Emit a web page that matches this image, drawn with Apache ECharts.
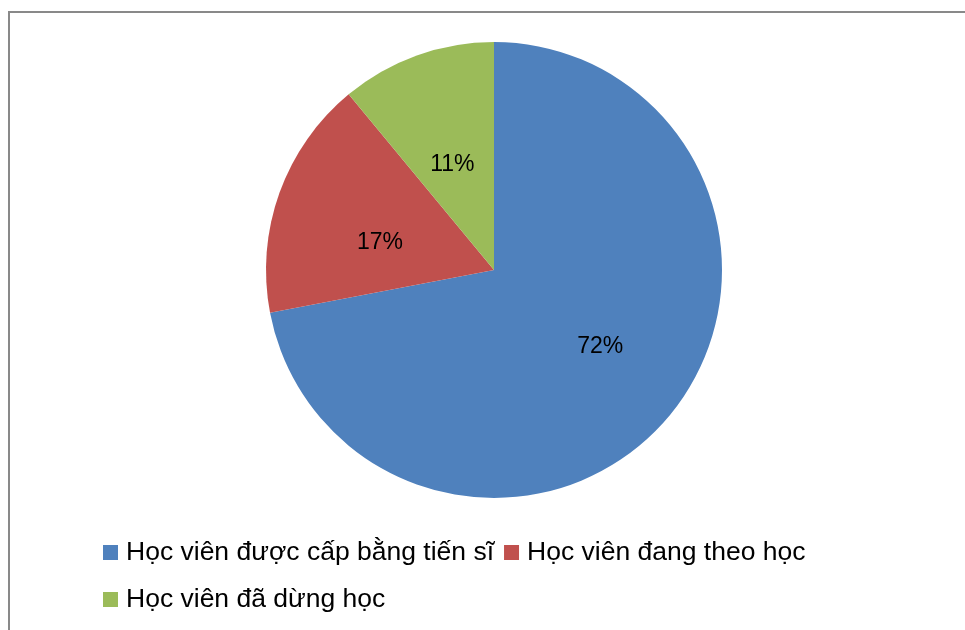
<!DOCTYPE html>
<html>
<head>
<meta charset="utf-8">
<script src="https://cdn.jsdelivr.net/npm/echarts@6/dist/echarts.min.js"></script>
<style>
  html, body { margin: 0; padding: 0; background: #ffffff; }
  #chart { width: 965px; height: 630px; }
</style>
</head>
<body>
<div id="chart"></div>
<script>
// Student outcome categories and their shares (%)
const categories = [
  'Học viên được cấp bằng tiến sĩ',
  'Học viên đang theo học',
  'Học viên đã dừng học'
];
const shares = [72, 17, 11];
const colors = ['#4F81BD', '#C0504D', '#9BBB59'];
// Nudges for the in-slice percentage labels
const labelOffsets = [[16, 2], [-4, 12], [-2, 5]];

const FONT = '"Liberation Sans", Arial, sans-serif';

const chart = echarts.init(document.getElementById('chart'), null, { renderer: 'canvas' });

const legendCommon = {
  orient: 'horizontal',
  icon: 'rect',
  itemWidth: 15,
  itemHeight: 15,
  itemGap: 10,
  padding: 0,
  textStyle: { fontFamily: FONT, fontSize: 26.5, color: '#000000', padding: [0, 0, 0, 3] },
  selectedMode: false
};

chart.setOption({
  animation: false,
  color: colors,
  graphic: [{
    type: 'rect',
    shape: { x: 9, y: 12, width: 1000, height: 700 },
    style: { fill: 'none', stroke: '#898989', lineWidth: 2 },
    silent: true
  }],
  legend: [
    Object.assign({}, legendCommon, { left: 103, top: 539, data: categories.slice(0, 2) }),
    Object.assign({}, legendCommon, { left: 103, top: 586, data: categories.slice(2) })
  ],
  series: [{
    type: 'pie',
    center: [494, 270],
    radius: 228,
    startAngle: 90,
    clockwise: true,
    avoidLabelOverlap: false,
    itemStyle: { borderWidth: 0 },
    label: {
      show: true,
      position: 'inside',
      formatter: '{c}%',
      fontFamily: FONT,
      fontSize: 23,
      color: '#000000'
    },
    labelLine: { show: false },
    emphasis: { disabled: true },
    data: categories.map((name, i) => ({
      name: name,
      value: shares[i],
      label: { offset: labelOffsets[i] }
    }))
  }]
});
</script>
</body>
</html>
